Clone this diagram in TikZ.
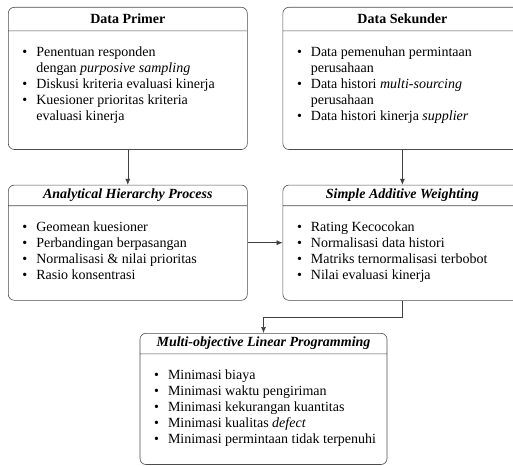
\documentclass[tikz,border=0pt]{standalone}
\usepackage{fontspec}
\setmainfont{Liberation Serif}
\usetikzlibrary{arrows.meta,positioning,shapes.multipart,calc}

\newenvironment{blist}{%
  \begin{list}{\textbullet}{%
    \setlength{\leftmargin}{28pt}\setlength{\labelwidth}{10pt}%
    \setlength{\labelsep}{9pt}\setlength{\itemsep}{0pt}%
    \setlength{\parsep}{0pt}\setlength{\topsep}{0pt}%
    \setlength{\partopsep}{0pt}}}{\end{list}}
\newcommand{\blkhead}[3][239pt]{\parbox[c][#2][c]{#1}{\centering\bfseries #3}}
\newcommand{\blkbody}[3][239pt]{\parbox[t][#2][t]{#1}{\vspace*{16pt}\raggedright
  \begin{blist}#3\end{blist}}}

\begin{document}
\begin{tikzpicture}[
  >={Latex[length=6pt,width=5pt]},
  node distance=35pt and 35pt,
  blk/.style={
    rectangle split,
    rectangle split parts=2,
    draw=black!70,
    line width=0.6pt,
    rounded corners=6pt,
    inner sep=0pt,
    font=\fontsize{14}{15.8}\selectfont
  },
  arr/.style={->, draw=black!75, line width=0.6pt}
]
\useasboundingbox (0,0) rectangle (513pt,-465pt);

\node[blk, anchor=north west] (primer) at (8pt,-7pt)
{\blkhead{23pt}{Data Primer}\nodepart{two}\blkbody{118pt}{%
  \item Penentuan responden\\dengan \textit{purposive sampling}
  \item Diskusi kriteria evaluasi kinerja
  \item Kuesioner prioritas kriteria\\evaluasi kinerja}};
\node[blk, right=of primer] (sekunder)
{\blkhead{23pt}{Data Sekunder}\nodepart{two}\blkbody{118pt}{%
  \item Data pemenuhan permintaan\\perusahaan
  \item Data histori \textit{multi-sourcing}\\perusahaan
  \item Data histori kinerja \textit{supplier}}};

\node[blk, below=of primer] (ahp)
{\blkhead{20pt}{\itshape Analytical Hierarchy Process}\nodepart{two}\blkbody{94pt}{%
  \item Geomean kuesioner
  \item Perbandingan berpasangan
  \item Normalisasi \& nilai prioritas
  \item Rasio konsentrasi}};
\node[blk, below=of sekunder] (saw)
{\blkhead{20pt}{\itshape Simple Additive Weighting}\nodepart{two}\blkbody{94pt}{%
  \item Rating Kecocokan
  \item Normalisasi data histori
  \item Matriks ternormalisasi terbobot
  \item Nilai evaluasi kinerja}};

\node[blk, anchor=north] (molp) at (263.5pt,-333pt)
{\blkhead[247pt]{20pt}{\itshape Multi-objective Linear Programming}\nodepart{two}\blkbody[247pt]{110pt}{%
  \item Minimasi biaya
  \item Minimasi waktu pengiriman
  \item Minimasi kekurangan kuantitas
  \item Minimasi kualitas \textit{defect}
  \item Minimasi permintaan tidak terpenuhi}};

\coordinate (bend) at ($(saw.south)+(0,-17pt)$);

\draw[arr] (primer.south) -- (ahp.north);
\draw[arr] (sekunder.south) -- (saw.north);
\draw[arr] (ahp.east) -- (saw.west);
\draw[arr] (saw.south) -- (bend) -| (molp.north);
\end{tikzpicture}
\end{document}
